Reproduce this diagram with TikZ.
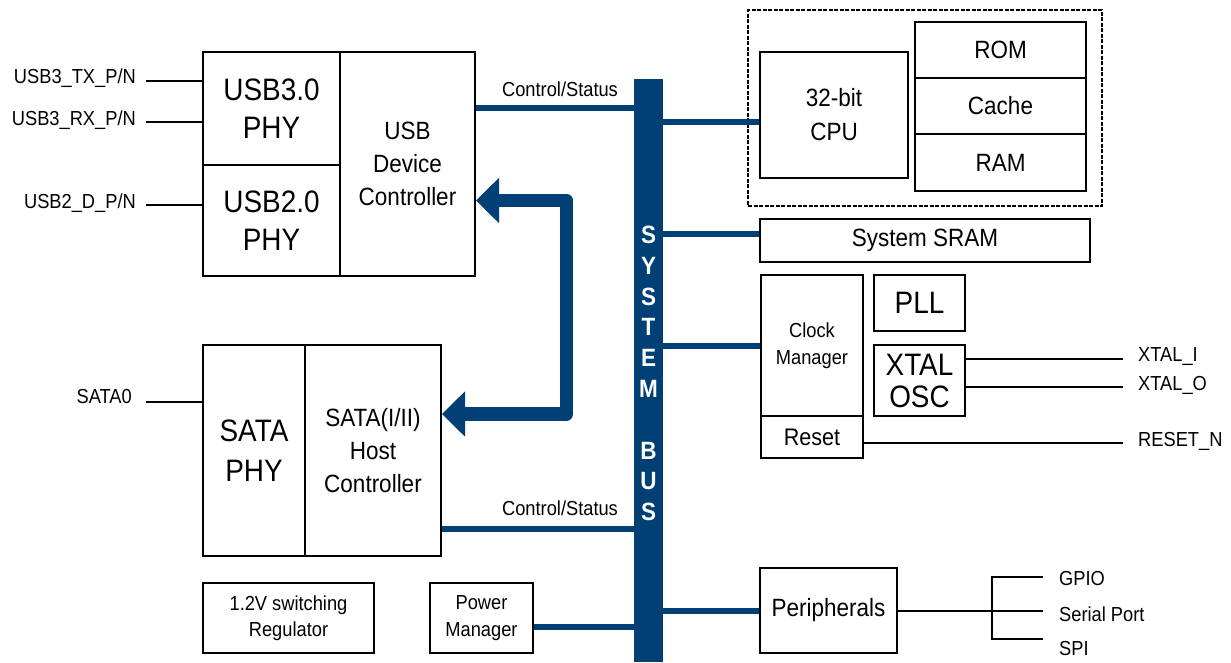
\documentclass[tikz,border=0pt]{standalone}
\usepackage{fontspec}
\setmainfont{Liberation Sans}[FakeStretch=0.9]
\usetikzlibrary{arrows.meta}
\definecolor{busblue}{RGB}{0,64,116}
\newcommand\txtL{\fontsize{31}{38}\selectfont}
\newcommand\txtM{\fontsize{25}{33}\selectfont}
\newcommand\txtS{\fontsize{20.3}{26.5}\selectfont}
\newcommand\txtB{\fontsize{25}{25}\selectfont\bfseries}
\tikzset{
  blk/.style={draw=black, line width=2pt, inner sep=0pt, align=center},
  sigline/.style={draw=black, line width=2pt},
  busline/.style={draw=busblue, line width=5.5pt},
  siglabel/.style={inner sep=0pt, font=\txtS},
  buslabel/.style={inner sep=0pt, text=white, font=\txtB},
  dualarrow/.style={draw=busblue, line width=13.5pt, line join=round,
    {Triangle[length=23pt,width=44pt]}-{Triangle[length=23pt,width=44pt]}}
}
\begin{document}
\begin{tikzpicture}[x=1pt,y=-1pt]
\useasboundingbox (0,0) rectangle (1231,662);

% system bus
\node[fill=busblue, inner sep=0pt, minimum width=29pt, minimum height=583pt] (bus) at (648.5,370.5) {};
\foreach \ch/\yy [count=\i] in {S/235, Y/265.8, S/296.6, T/327.3, E/358.1, M/388.9, B/450.4, U/481.2, S/512}
  \node[buslabel] (busch\i) at (648.5,\yy) {\ch};

% USB block
\node[blk, minimum width=137pt, minimum height=113pt, font=\txtL] (usb3phy) at (271.5,108.5) {USB3.0\\PHY};
\node[blk, minimum width=137pt, minimum height=111pt, font=\txtL] (usb2phy) at (271.5,220.5) {USB2.0\\PHY};
\node[blk, minimum width=135pt, minimum height=224pt, font=\txtM] (usbctl) at (407.5,164) {USB\\Device\\Controller};

% SATA block
\node[blk, minimum width=102pt, minimum height=211pt, font=\fontsize{31}{40}\selectfont] (sataphy) at (254,450.5) {SATA\\PHY};
\node[blk, minimum width=136pt, minimum height=211pt, font=\txtM] (satactl) at (373,450.5) {SATA(I/II)\\Host\\Controller};

% power
\node[blk, minimum width=171pt, minimum height=70pt, font=\txtS] (reg) at (288.5,618) {1.2V switching\\Regulator};
\node[blk, minimum width=103pt, minimum height=70pt, font=\txtS] (pwr) at (481.5,618) {Power\\Manager};

% CPU subsystem
\node[draw=black, line width=1.5pt, dash pattern=on 4pt off 1.5pt, inner sep=0pt, minimum width=354pt, minimum height=196pt] (cpugrp) at (925,108) {};
\node[blk, minimum width=148pt, minimum height=126pt, font=\fontsize{25}{34}\selectfont] (cpu) at (834,115) {32-bit\\CPU};
\node[blk, minimum width=171pt, minimum height=56pt, font=\txtM] (rom) at (1000.5,50) {ROM};
\node[blk, minimum width=171pt, minimum height=56pt, font=\txtM] (cache) at (1000.5,106) {Cache};
\node[blk, minimum width=171pt, minimum height=57pt, font=\txtM] (ram) at (1000.5,162.5) {RAM};
\node[blk, minimum width=330pt, minimum height=43pt, font=\txtM] (sram) at (925,240.5) {System SRAM};

% clocking
\node[blk, minimum width=102pt, minimum height=141pt, font=\fontsize{20.3}{27}\selectfont] (clk) at (812,345.5) {Clock\\Manager};
\node[blk, minimum width=102pt, minimum height=42pt, font=\fontsize{24}{30}\selectfont] (rst) at (812,437) {Reset};
\node[blk, minimum width=91pt, minimum height=56pt, font=\txtL] (pll) at (919.5,303) {PLL};
\node[blk, minimum width=91pt, minimum height=71pt, font=\fontsize{31}{32}\selectfont] (xtal) at (919.5,380.5) {XTAL\\OSC};

% peripherals
\node[blk, minimum width=137pt, minimum height=85pt, font=\txtM] (periph) at (828.5,610.5) {Peripherals};

% bus connections
\draw[busline] (usbctl.east |- 0,108) -- (bus.west |- 0,108);
\node[siglabel, anchor=base] (cs1) at (560,96) {Control/Status};
\draw[busline] (satactl.east |- 0,529) -- (bus.west |- 0,529);
\node[siglabel, anchor=base] (cs2) at (560,515) {Control/Status};
\draw[busline] (pwr.east |- 0,627) -- (bus.west |- 0,627);
\draw[busline] (bus.east |- 0,122) -- (cpu.west |- 0,122);
\draw[busline] (bus.east |- 0,234) -- (sram.west |- 0,234);
\draw[busline] (bus.east |- 0,346) -- (clk.west |- 0,346);
\draw[busline] (bus.east |- 0,611) -- (periph.west |- 0,611);

% USB <-> SATA data path
\coordinate (bendA) at (566.5,200.5);
\coordinate (bendB) at (566.5,414);
\draw[dualarrow] (usbctl.east |- bendA) -- (bendA) -- (bendB) -- (satactl.east |- bendB);

% external signals, left side
\coordinate (txend) at (146,81);
\coordinate (rxend) at (146,122);
\coordinate (dend) at (146,205);
\coordinate (sataend) at (146,401.5);
\draw[sigline] (txend) -- (usb3phy.west |- txend);
\draw[sigline] (rxend) -- (usb3phy.west |- rxend);
\draw[sigline] (dend) -- (usb2phy.west |- dend);
\draw[sigline] (sataend) -- (sataphy.west |- sataend);
\node[siglabel, anchor=base east] (txlbl) at (136,83.3) {USB3\_TX\_P/N};
\node[siglabel, anchor=base east] (rxlbl) at (136,125) {USB3\_RX\_P/N};
\node[siglabel, anchor=base east] (dlbl) at (136,208) {USB2\_D\_P/N};
\node[siglabel, anchor=base east] (satalbl) at (132,403) {SATA0};

% external signals, right side
\coordinate (xiend) at (1123,359);
\coordinate (xoend) at (1123,387);
\coordinate (rstend) at (1123,443);
\draw[sigline] (xtal.east |- xiend) -- (xiend);
\draw[sigline] (xtal.east |- xoend) -- (xoend);
\draw[sigline] (rst.east |- rstend) -- (rstend);
\node[siglabel, anchor=base west] (xilbl) at (1138,361.7) {XTAL\_I};
\node[siglabel, anchor=base west] (xolbl) at (1138,390) {XTAL\_O};
\node[siglabel, anchor=base west] (rstlbl) at (1138,446.7) {RESET\_N};

% peripheral fan-out
\coordinate (fork) at (992,611);
\coordinate (gpioend) at (1043,577);
\coordinate (serend) at (1043,611);
\coordinate (spiend) at (1043,639);
\draw[sigline] (periph.east |- fork) -- (fork);
\draw[sigline] (gpioend) -- (fork |- gpioend) -- (fork |- spiend) -- (spiend);
\draw[sigline] (fork) -- (serend);
\node[siglabel, anchor=base west] (gpiolbl) at (1059,585) {GPIO};
\node[siglabel, anchor=base west] (serlbl) at (1059,621.7) {Serial Port};
\node[siglabel, anchor=base west] (spilbl) at (1059,655) {SPI};
\end{tikzpicture}
\end{document}
